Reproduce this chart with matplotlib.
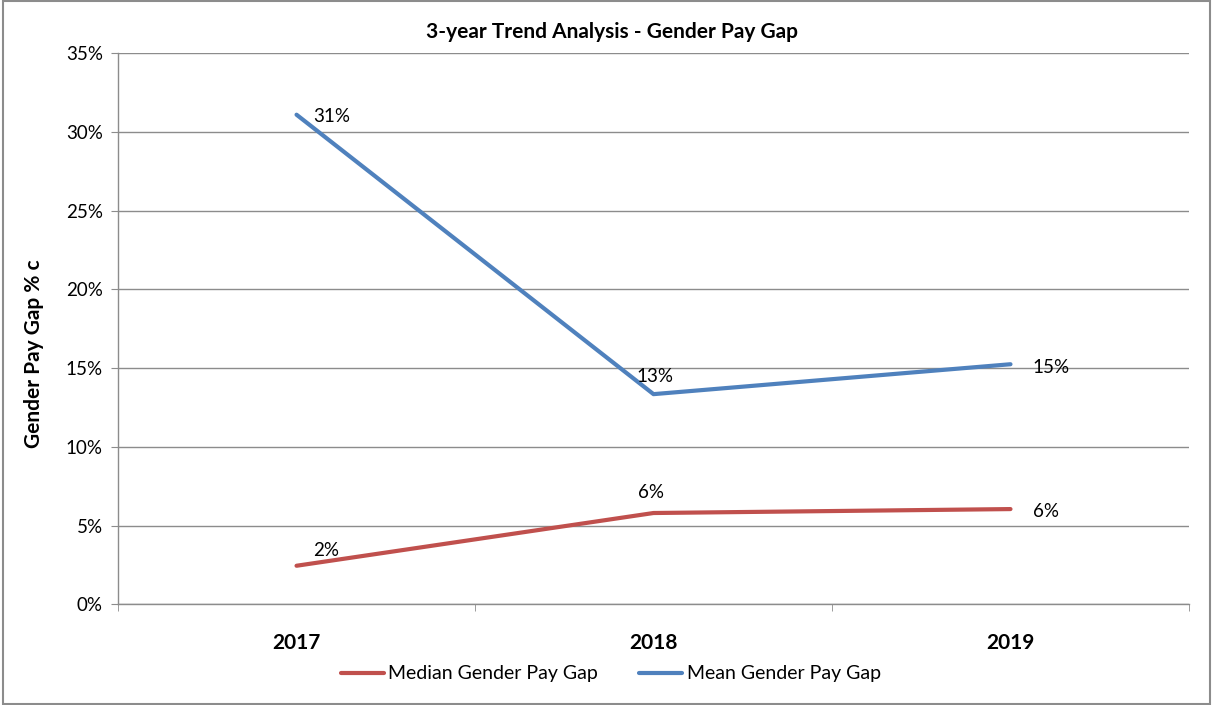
import matplotlib
matplotlib.use("Agg")
import matplotlib.pyplot as plt
from matplotlib.patches import Rectangle
from matplotlib.ticker import FixedLocator, PercentFormatter

years = ["2017", "2018", "2019"]
median_gap = [2.45, 5.8, 6.05]
mean_gap = [31.1, 13.35, 15.25]
median_labels = ["2%", "6%", "6%"]
mean_labels = ["31%", "13%", "15%"]

plt.rcParams['font.family'] = ['Lato', 'DejaVu Sans']

fig = plt.figure(figsize=(12.12, 7.05), dpi=100)
ax = fig.add_axes([0.0974, 0.1428, 0.8836, 0.7816])

red = "#C0504D"
blue = "#4F81BD"
x = list(range(len(years)))
ax.plot(x, median_gap, color=red, lw=3, solid_capstyle="round", label="Median Gender Pay Gap", zorder=3)
ax.plot(x, mean_gap, color=blue, lw=3, solid_capstyle="round", label="Mean Gender Pay Gap", zorder=3)

# data labels (offsets in points)
med_off = [(12, 11), (-11, 15), (16, -2)]
mean_off = [(12, -1), (-12, 13), (16, -2)]
for i in x:
    ax.annotate(median_labels[i], (x[i], median_gap[i]), xytext=med_off[i], textcoords="offset points",
                ha="left", va="center", fontsize=13.5)
    ax.annotate(mean_labels[i], (x[i], mean_gap[i]), xytext=mean_off[i], textcoords="offset points",
                ha="left", va="center", fontsize=13.5)

ax.set_xlim(-0.5, len(years) - 0.5)
ax.set_ylim(0, 35)
ax.yaxis.set_major_locator(FixedLocator([0, 5, 10, 15, 20, 25, 30, 35]))
ax.yaxis.set_major_formatter(PercentFormatter(decimals=0))
ax.grid(axis="y", color="#8c8c8c", lw=1)
ax.set_axisbelow(True)

ax.set_xticks(x)
ax.set_xticklabels(years, fontweight="bold", fontsize=15)
ax.set_xticks([i - 0.5 for i in range(len(years) + 1)], minor=True)
ax.tick_params(axis="x", which="major", length=0, pad=21)
ax.tick_params(axis="x", which="minor", length=5, color="#8c8c8c", direction="out")
ax.tick_params(axis="y", length=5, color="#8c8c8c", labelsize=13.5, pad=6)

for s in ["top", "right"]:
    ax.spines[s].set_visible(False)
for s in ["left", "bottom"]:
    ax.spines[s].set_color("#8c8c8c")
    ax.spines[s].set_linewidth(1)

ax.set_ylabel("Gender Pay Gap % c", fontweight="bold", fontsize=15)
ax.yaxis.set_label_coords(-0.069, 0.455)
fig.text(0.505, 0.955, "3-year Trend Analysis - Gender Pay Gap", ha="center", va="center",
         fontweight="bold", fontsize=15)

leg = fig.legend(loc="center", bbox_to_anchor=(0.504, 0.044), ncol=2, frameon=False,
                 fontsize=14, handlelength=2.2, handletextpad=0.25, columnspacing=2.1)

fig.patches.append(Rectangle((0.0025, 0.001), 0.9955, 0.997, transform=fig.transFigure,
                             fill=False, edgecolor="#8c8c8c", lw=1.5))

fig.savefig("out.png", dpi=100)
